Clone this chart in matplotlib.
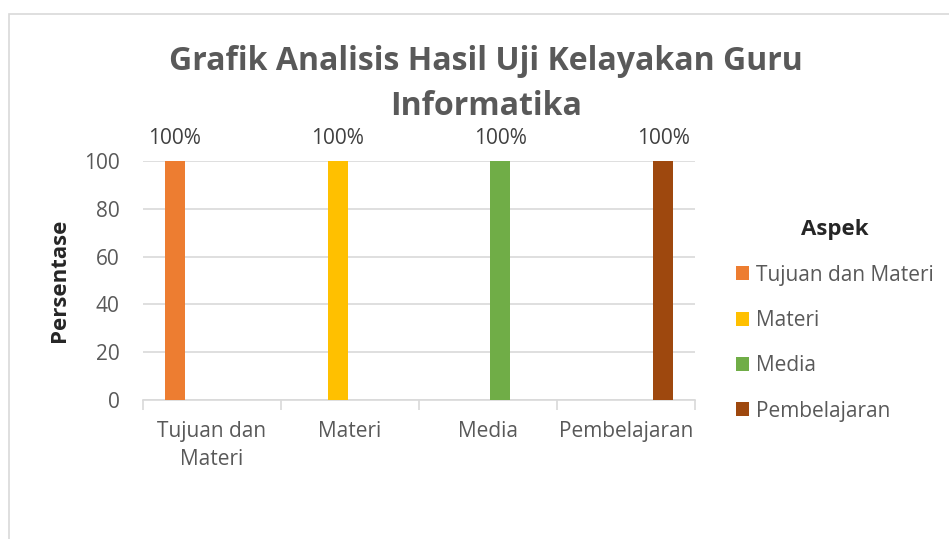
import numpy as np
import matplotlib.pyplot as plt
from matplotlib.patches import Rectangle

categories = ["Tujuan dan\nMateri", "Materi", "Media", "Pembelajaran"]
series_names = ["Tujuan dan Materi", "Materi", "Media", "Pembelajaran"]
# each aspect only has a value in its own category
values = [
    [100, 0, 0, 0],
    [0, 100, 0, 0],
    [0, 0, 100, 0],
    [0, 0, 0, 100],
]
colors = ["#ED7D31", "#FFC000", "#70AD47", "#9E480E"]
yticks = [0, 20, 40, 60, 80, 100]

plt.rcParams['font.family'] = ['Open Sans', 'DejaVu Sans']
txt = "#595959"
grid = "#D9D9D9"

fig = plt.figure(figsize=(9.49, 5.39), dpi=100)
fig.patches.append(Rectangle((9 / 949, -0.1), 1.2, 1 - 14 / 539 + 0.1, transform=fig.transFigure,
                             fill=False, edgecolor=grid, linewidth=1.2))

ax = fig.add_axes([143 / 949, 1 - 400 / 539, 552 / 949, 239 / 539])

x = np.arange(len(categories))
step = 0.18
width = 0.145
for i, (name, vals, c) in enumerate(zip(series_names, values, colors)):
    pos = x + (i - 1.5) * step
    bars = ax.bar(pos, vals, width=width, color=c, label=name, zorder=3)
    for b, v in zip(bars, vals):
        if v > 0:
            ax.text(b.get_x() + b.get_width() / 2, v + 5, f"{v}%", ha="center", va="bottom",
                    fontsize=15, color="#404040")

ax.set_xlim(-0.5, len(categories) - 0.5)
ax.set_ylim(0, 100)
ax.set_yticks(yticks)
ax.yaxis.grid(True, color=grid, linewidth=1.2, zorder=0)
ax.tick_params(axis="y", length=0, labelsize=15, labelcolor=txt, pad=17)
ax.set_xticks(x)
ax.set_xticklabels(categories, linespacing=1.45)
ax.tick_params(axis="x", which="major", length=0, labelsize=15, labelcolor=txt, pad=15)
ax.set_xticks(np.arange(len(categories) + 1) - 0.5, minor=True)
ax.tick_params(axis="x", which="minor", length=7, color=grid, width=1.2)
for s in ["top", "right", "left"]:
    ax.spines[s].set_visible(False)
ax.spines["bottom"].set_color(grid)
ax.spines["bottom"].set_linewidth(1.2)

ax.set_ylabel("Persentase", fontsize=16, fontweight="bold", color="#262626", labelpad=10)
fig.text(486 / 949, 1 - 84 / 539, "Grafik Analisis Hasil Uji Kelayakan Guru\nInformatika",
         ha="center", va="center", fontsize=23, fontweight="bold", color=txt, linespacing=1.45)

leg = ax.legend(title="Aspek", loc="upper left", bbox_to_anchor=(1.04, 0.835), frameon=False,
                fontsize=15, handlelength=0.65, handleheight=0.65, handletextpad=0.3,
                labelspacing=1.17, labelcolor=txt)
leg.get_title().set_fontweight("bold")
leg.get_title().set_fontsize(16)
leg.get_title().set_color("#262626")
leg._legend_box.align = "center"

fig.savefig("out.png", dpi=100)
